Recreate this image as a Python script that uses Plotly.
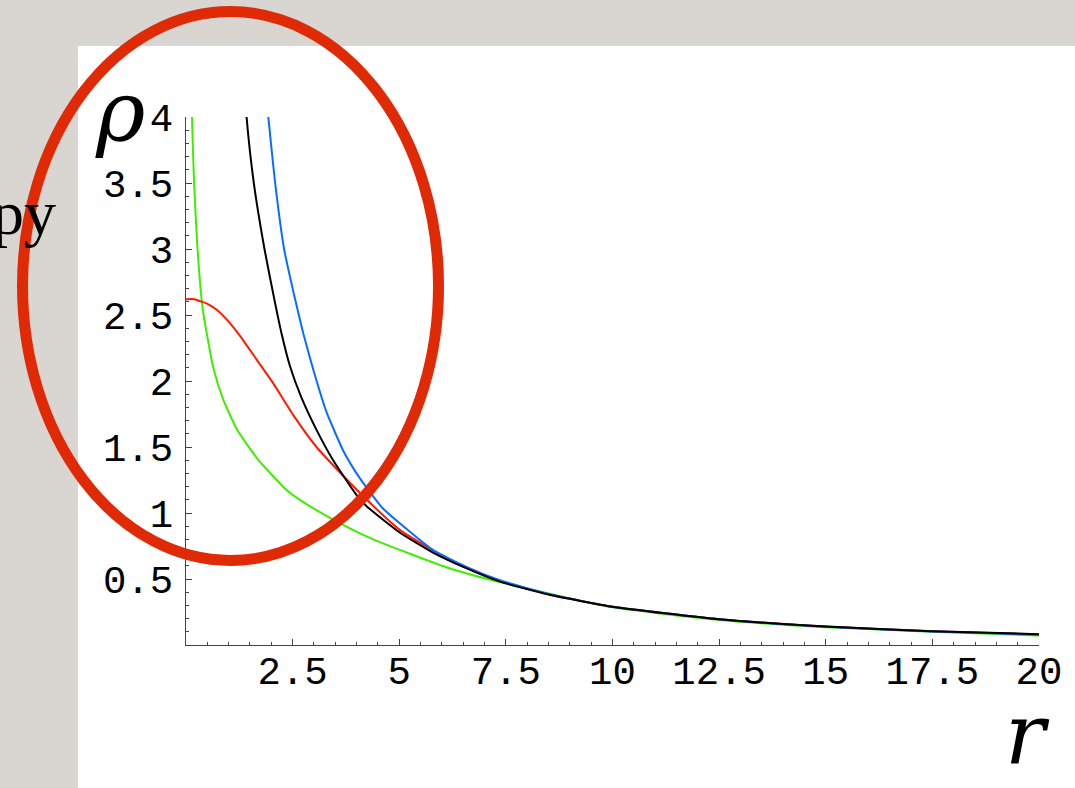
import plotly.graph_objects as go

# ---- data ----
r_green = [0.12, 0.14, 0.19, 0.27, 0.39, 0.64, 0.87, 1.2, 1.7, 2.37, 2.67, 3.45, 4.39, 6.19, 7.5, 10, 12.5, 15, 17.5, 20]
rho_green = [4.4, 4.0, 3.5, 3.0, 2.55, 2.1, 1.86, 1.63, 1.40, 1.17, 1.10, 0.95, 0.80, 0.58, 0.465, 0.285, 0.19, 0.135, 0.10, 0.072]

r_red = [0, 0.2, 0.33, 0.5, 0.72, 1.0, 1.27, 1.66, 2.05, 2.52, 3.06, 3.69, 4.24, 5.02, 6.11, 7.36, 8.53, 10, 12.5, 15, 17.5, 20]
rho_red = [2.62, 2.62, 2.605, 2.585, 2.54, 2.45, 2.34, 2.16, 1.98, 1.74, 1.50, 1.28, 1.10, 0.87, 0.66, 0.485, 0.38, 0.29, 0.195, 0.14, 0.104, 0.08]

r_black = [1.38, 1.42, 1.59, 1.84, 2.07, 2.24, 2.44, 2.70, 3.06, 3.45, 4.0, 4.24, 5.02, 5.79, 6.58, 7.36, 8.53, 10, 12.5, 15, 17.5, 20]
rho_black = [4.2, 4.0, 3.5, 3.0, 2.62, 2.36, 2.11, 1.88, 1.63, 1.40, 1.136, 1.05, 0.85, 0.70, 0.58, 0.48, 0.38, 0.29, 0.195, 0.14, 0.105, 0.082]

r_blue = [1.88, 1.93, 2.09, 2.30, 2.55, 2.75, 2.99, 3.30, 3.69, 4.0, 4.24, 4.6, 5.02, 5.79, 6.58, 7.36, 8.53, 10, 12.5, 15, 17.5, 20]
rho_blue = [4.2, 4.0, 3.5, 3.0, 2.63, 2.36, 2.08, 1.76, 1.47, 1.30, 1.19, 1.04, 0.92, 0.72, 0.59, 0.49, 0.385, 0.29, 0.195, 0.138, 0.103, 0.078]

x_tickvals = [2.5, 5, 7.5, 10, 12.5, 15, 17.5, 20]
x_ticktext = ["2.5", "5", "7.5", "10", "12.5", "15", "17.5", "20"]
y_tickvals = [0.5, 1, 1.5, 2, 2.5, 3, 3.5, 4]
y_ticktext = ["0.5", "1", "1.5", "2", "2.5", "3", "3.5", "4"]

# ---- layout geometry (pixels) ----
W, H = 1075, 788
L, R, T, B = 186, 36, 117, 143
PW, PH = W - L - R, H - T - B


def px(xp):
    return (xp - L) / PW


def py(yp):
    return (H - B - yp) / PH


fig = go.Figure()
for xs, ys, col in [
    (r_green, rho_green, "#3fee00"),
    (r_red, rho_red, "#ff1a00"),
    (r_blue, rho_blue, "#0a6cff"),
    (r_black, rho_black, "#000000"),
]:
    fig.add_trace(go.Scatter(x=xs, y=ys, mode="lines",
                             line=dict(color=col, width=2, shape="spline", smoothing=0.5),
                             showlegend=False))

axis_common = dict(
    showgrid=False, zeroline=False, showline=True, linecolor="#444444", linewidth=1.2,
    ticks="inside", ticklen=6, tickwidth=1, tickcolor="#444444",
    tickfont=dict(family="Liberation Mono", size=39, color="black"),
    tickmode="array",
)
fig.update_xaxes(range=[0, 20], tickvals=x_tickvals, ticktext=x_ticktext,
                 minor=dict(ticks="inside", ticklen=3, tickcolor="#444444", dtick=0.5, tick0=0),
                 ticklabelstandoff=-9, **axis_common)
fig.update_yaxes(range=[0, 4], tickvals=y_tickvals, ticktext=y_ticktext,
                 minor=dict(ticks="inside", ticklen=3, tickcolor="#444444", dtick=0.1, tick0=0),
                 ticklabelstandoff=4, **axis_common)

shapes = [
    dict(type="rect", xref="paper", yref="paper", layer="below",
         x0=px(78), x1=px(W + 5), y0=py(H + 5), y1=py(46),
         fillcolor="white", line=dict(width=0)),
    dict(type="circle", xref="paper", yref="paper", layer="above",
         x0=px(22.5), x1=px(438.5), y0=py(560.5), y1=py(11.5),
         line=dict(color="#e02a06", width=11)),
]

annotations = [
    dict(text="ρ", xref="paper", yref="paper", x=px(120), y=py(111), xanchor="center", yanchor="middle",
         showarrow=False, font=dict(family="DejaVu Serif", size=84, color="black", style="italic")),
    dict(text="r", xref="paper", yref="paper", x=px(1027), y=py(734), xanchor="center", yanchor="middle",
         showarrow=False, font=dict(family="DejaVu Serif", size=84, color="black", style="italic")),
    dict(text="py", xref="paper", yref="paper", x=px(58), y=py(212), xanchor="right", yanchor="middle",
         showarrow=False, font=dict(family="Liberation Serif", size=64, color="black")),
]

fig.update_layout(
    width=W, height=H,
    margin=dict(l=L, r=R, t=T, b=B, pad=0),
    paper_bgcolor="#d9d6d1",
    plot_bgcolor="rgba(0,0,0,0)",
    shapes=shapes,
    annotations=annotations,
    showlegend=False,
)

fig.write_html("out.html",
               config={"displayModeBar": False},
               post_script="document.body.style.margin='0';document.body.style.overflow='hidden';")
